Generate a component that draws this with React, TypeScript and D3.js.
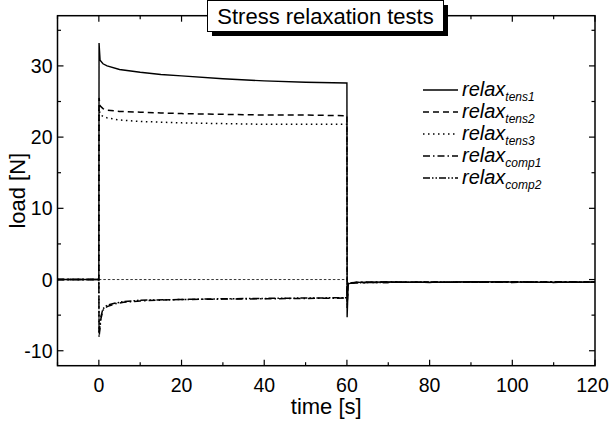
import React from "react";
import * as d3 from "d3";

const W = 610, H = 425;
const M = { left: 57.5, right: 15, top: 15.7, bottom: 59.3 };

const xTicks = [0, 20, 40, 60, 80, 100, 120];
const yTicks = [-10, 0, 10, 20, 30];

// time points (s)
const tTens = [-10, -0.01, 0, 0.05, 0.3, 1, 2, 5, 10, 15, 20, 30, 40, 50, 59.9, 60, 60.05, 60.3, 62, 70, 80, 90, 100, 110, 120];
const tens1 = [0, 0, 0, 33.2, 30.8, 30.3, 30.0, 29.5, 29.1, 28.8, 28.6, 28.2, 27.9, 27.7, 27.6, 27.6, -5.3, -0.6, -0.4, -0.35, -0.4, -0.3, -0.35, -0.4, -0.35];
const tens2 = [0, 0, 0, 25.5, 24.4, 24.0, 23.8, 23.6, 23.5, 23.4, 23.3, 23.2, 23.1, 23.1, 23.0, 23.0, -4.0, -0.6, -0.45, -0.4, -0.35, -0.4, -0.3, -0.4, -0.35];
const tens3 = [0, 0, 0, 24.0, 23.2, 22.9, 22.7, 22.4, 22.2, 22.1, 22.0, 21.9, 21.8, 21.8, 21.8, 21.8, -3.5, -0.5, -0.4, -0.35, -0.4, -0.35, -0.4, -0.3, -0.4];
const tComp = [-10, -0.01, 0, 0.05, 0.5, 1, 2, 4, 6, 10, 20, 30, 40, 50, 59.9, 60, 60.1, 62, 70, 80, 90, 100, 110, 120];
const comp1 = [0, 0, 0, -8.1, -5.5, -4.3, -3.8, -3.4, -3.2, -3.0, -2.8, -2.75, -2.7, -2.65, -2.6, -2.6, -0.5, -0.4, -0.35, -0.4, -0.35, -0.4, -0.3, -0.35];
const comp2 = [0, 0, 0, -7.6, -5.2, -4.1, -3.6, -3.3, -3.1, -2.9, -2.8, -2.7, -2.65, -2.6, -2.55, -2.55, -0.6, -0.45, -0.4, -0.35, -0.4, -0.3, -0.4, -0.35];
const baselineT = [0, 60];
const baselineV = [0, 0];

const seriesNames = ["tens1", "tens2", "tens3", "comp1", "comp2"];
const dashes = ["", "6,4", "1.5,3.5", "7,3,1.5,3", "7,2,1.5,2,1.5,2"];

export default function App() {
  const x = d3.scaleLinear().domain([-10, 120]).range([M.left, W - M.right]);
  const y = d3.scaleLinear().domain([-12.1, 37.05]).range([H - M.bottom, M.top]);
  const line = d3.line<[number, number]>().x((d) => x(d[0])).y((d) => y(d[1]));
  const zip = (t: number[], v: number[]) => t.map((ti, i) => [ti, v[i]] as [number, number]);
  const series = [zip(tTens, tens1), zip(tTens, tens2), zip(tTens, tens3), zip(tComp, comp1), zip(tComp, comp2)];

  const x0 = M.left, x1 = W - M.right, y0 = H - M.bottom, y1 = M.top;
  const xMinor = d3.range(-10, 121, 10);
  const yMinor = d3.range(-10, 36, 5);
  const font = "'Liberation Sans', Arial, sans-serif";

  const legX = 423, legY0 = 90, legDy = 22;

  return (
    <svg width={W} height={H} style={{ position: "absolute", left: 0, top: 0, background: "#fff" }} fontFamily={font}>
      <rect x={0} y={0} width={W} height={H} fill="#fff" />
      {/* baseline */}
      <path d={line(zip(baselineT, baselineV)) || ""} fill="none" stroke="#000" strokeWidth={0.8} strokeDasharray="2.5,2" />
      {series.map((s, i) => (
        <path key={i} d={line(s) || ""} fill="none" stroke="#000" strokeWidth={i === 0 ? 1.4 : 1.5} strokeDasharray={dashes[i] || undefined} />
      ))}
      {/* frame */}
      <rect x={x0} y={y1} width={x1 - x0} height={y0 - y1} fill="none" stroke="#000" strokeWidth={1.5} />
      {xMinor.map((v) => {
        const major = v % 20 === 0;
        const L = major ? 6 : 3.5;
        return (
          <g key={"x" + v}>
            <line x1={x(v)} x2={x(v)} y1={y0} y2={y0 - L} stroke="#000" strokeWidth={1.2} />
            <line x1={x(v)} x2={x(v)} y1={y1} y2={y1 + L} stroke="#000" strokeWidth={1.2} />
          </g>
        );
      })}
      {yMinor.map((v) => {
        const major = v % 10 === 0;
        const L = major ? 6 : 3.5;
        return (
          <g key={"y" + v}>
            <line x1={x0} x2={x0 + L} y1={y(v)} y2={y(v)} stroke="#000" strokeWidth={1.2} />
            <line x1={x1} x2={x1 - L} y1={y(v)} y2={y(v)} stroke="#000" strokeWidth={1.2} />
          </g>
        );
      })}
      {xTicks.map((v) => (
        <text key={"xl" + v} x={Math.min(x(v), W - 17.5)} y={y0 + 26.5} textAnchor="middle" fontSize={19.5}>{v}</text>
      ))}
      {yTicks.map((v) => (
        <text key={"yl" + v} x={x0 - 5} y={y(v) + 7} textAnchor="end" fontSize={19.5}>{v}</text>
      ))}
      <text x={(x0 + x1) / 2} y={414} textAnchor="middle" fontSize={22}>time [s]</text>
      <text transform={`translate(25,${(y0 + y1) / 2}) rotate(-90)`} textAnchor="middle" fontSize={22}>load [N]</text>
      {/* title */}
      <rect x={212} y={5} width={236} height={31} fill="#000" />
      <rect x={207.5} y={0.5} width={236} height={31} fill="#fff" stroke="#000" strokeWidth={1} />
      <text x={325.5} y={24} textAnchor="middle" fontSize={22}>Stress relaxation tests</text>
      {/* legend */}
      {seriesNames.map((n, i) => {
        const ly = legY0 + i * legDy;
        return (
          <g key={"lg" + n}>
            <line x1={legX} x2={legX + 35} y1={ly} y2={ly} stroke="#000" strokeWidth={1.5} strokeDasharray={dashes[i] || undefined} />
            <text x={legX + 39} y={ly + 6} fontSize={20} fontStyle="italic">
              relax<tspan fontSize={12} dy={5}>{n}</tspan>
            </text>
          </g>
        );
      })}
    </svg>
  );
}
